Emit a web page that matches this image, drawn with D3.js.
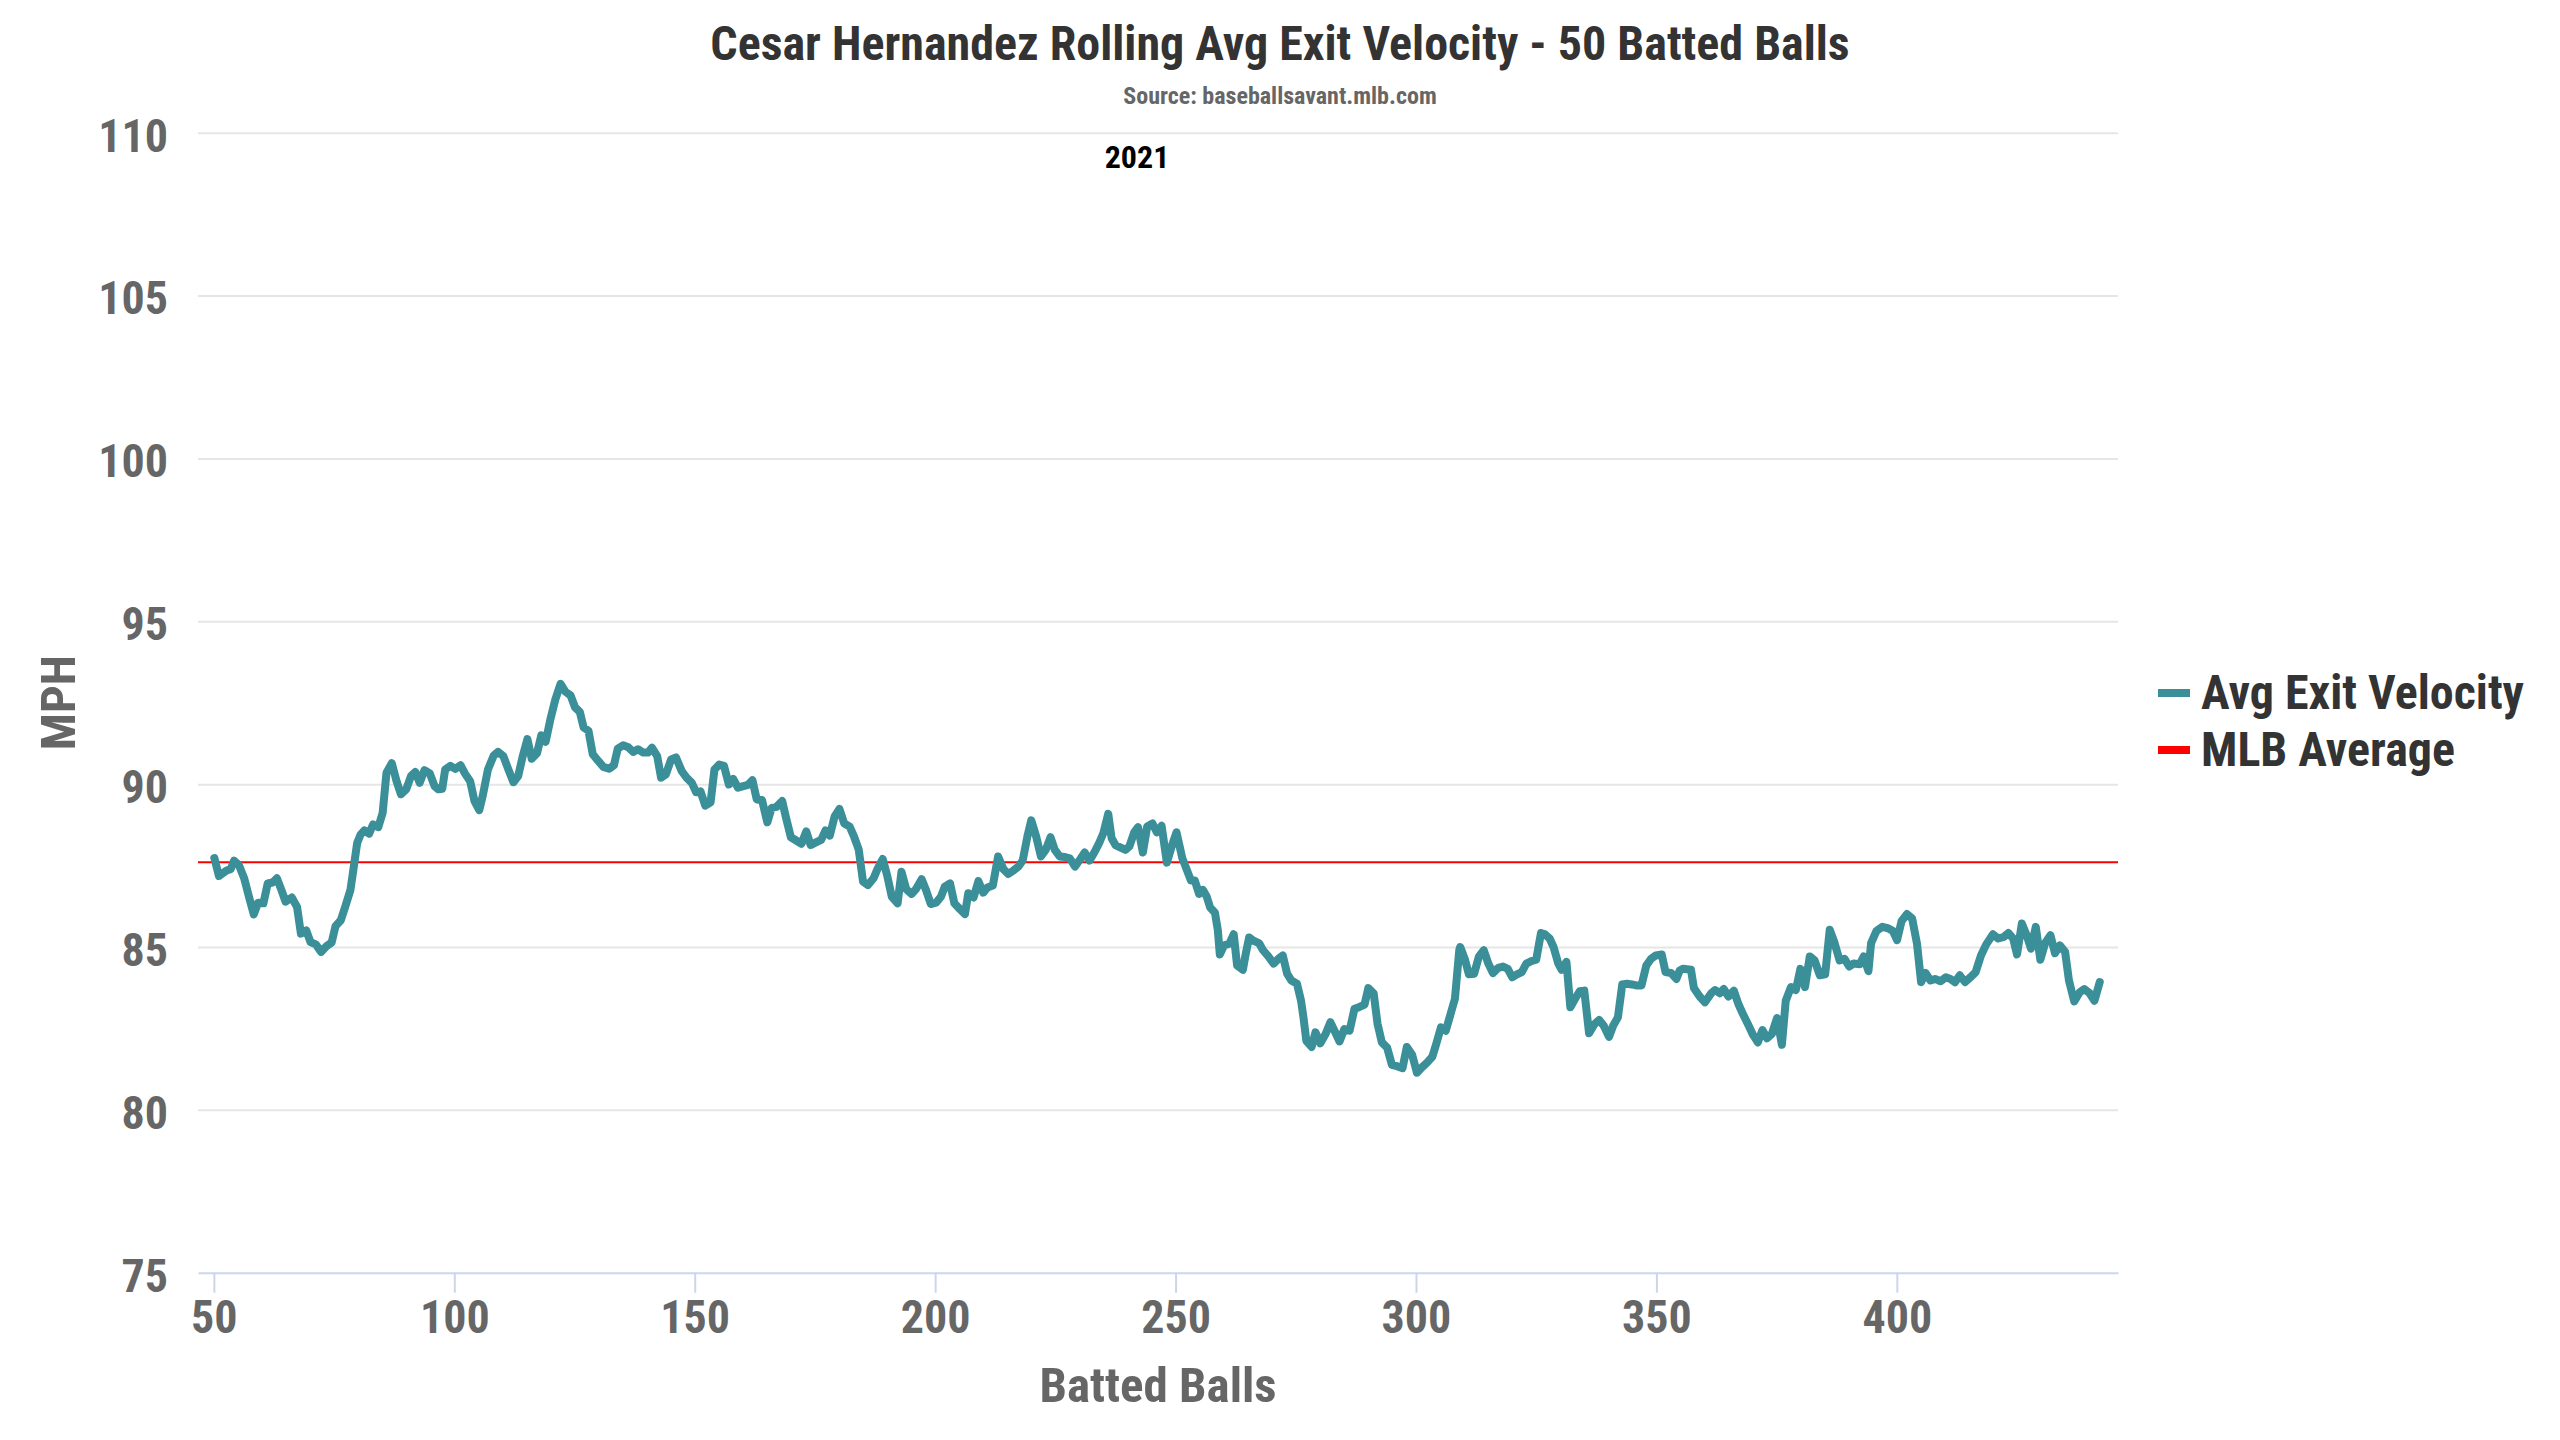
<!DOCTYPE html>
<html>
<head>
<meta charset="utf-8">
<script src="https://cdn.jsdelivr.net/npm/d3@7"></script>
<style>
  html, body { margin: 0; padding: 0; background: #fff; }
  svg { display: block; font-family: "Roboto Condensed", Roboto, "Noto Sans", sans-serif; font-weight: 700; }
</style>
</head>
<body>
<div id="chart"></div>
<script>
// ------DATA------
const battedBalls = [
  50.1, 51.05, 52.65, 53.5, 54.2, 55.2, 56.3, 57.3, 58.3, 59.2, 60.3, 61.2, 62.2, 63.1, 64.1, 64.9, 66.2, 67.3, 68.1, 69.2,
  70.1, 71.2, 72.3, 73.4, 74.5, 75.3, 76.4, 77.3, 78.4, 78.9, 79.8, 80.5, 81.3, 82.3, 83.1, 84.2, 85.1, 85.9, 87.0, 88.0,
  88.9, 90.0, 91.0, 91.9, 92.8, 93.8, 94.9, 95.9, 96.7, 97.5, 98.1, 99.2, 100.2, 101.3, 102.2, 103.3, 104.2, 105.2, 105.9, 107.0,
  108.2, 109.1, 110.2, 111.2, 112.3, 113.3, 114.2, 115.2, 116.1, 117.2, 118.1, 119.0, 120.0, 121.0, 122.1, 123.1, 124.2, 125.1, 126.1, 126.9,
  127.9, 128.8, 129.9, 131.0, 132.2, 133.2, 134.0, 135.1, 136.2, 137.2, 138.2, 139.3, 140.3, 141.1, 142.2, 143.0, 144.0, 145.1, 146.1,
  147.3, 148.3, 149.4, 150.3, 151.2, 152.2, 153.3, 154.1, 155.1, 156.1, 157.1, 158.0, 159.0, 160.1, 161.1, 162.0, 162.9, 164.0, 165.1, 166.0,
  167.0, 168.2, 169.0, 170.0, 171.1, 172.2, 173.2, 174.1, 175.2, 176.3, 177.2, 178.1, 179.1, 180.1, 181.1, 182.2, 183.1, 184.1, 185.0, 186.0,
  187.2, 188.0, 189.1, 190.0, 191.0, 192.2, 193.0, 194.0, 195.1, 196.0, 197.2, 198.1, 199.1, 200.2, 201.2, 202.0, 203.1, 204.0, 205.1, 206.2,
  206.9, 208.0, 209.0, 210.0, 210.9, 212.0, 213.1, 214.2, 215.2, 216.3, 217.3, 218.2, 219.2, 220.0, 221.0, 222.0, 223.0, 224.0, 224.9, 225.9,
  227.0, 228.0, 229.1, 230.2, 231.1, 232.1, 233.1, 234.1, 235.0, 236.0, 236.7, 237.5, 238.6, 239.6, 240.4, 241.4, 242.2, 243.2, 244.1, 245.2,
  246.1, 247.1, 248.2, 249.2, 250.2,
  251.4, 252.2, 253.2, 254.0, 254.9, 255.7, 256.5, 257.2, 258.2, 258.8, 259.2, 260.1, 261.2, 262.1, 262.8, 264.0, 264.6, 265.3, 266.2, 267.35,
  268.2, 269.3, 270.4, 271.4, 272.3, 273.2, 274.1, 275.25, 276.1, 276.6, 277.2, 278.3, 279.1, 280.1, 281.2, 282.2, 283.2, 284.1, 285.1, 286.2,
  287.2, 288.15, 289.3, 290.1, 291.2, 292.0, 292.9, 294.0, 295.0, 296.05, 297.2, 298.1, 299.2, 300.2, 301.2, 302.3, 303.4, 304.2, 305.2, 306.2,
  307.0, 308.1, 309.0, 309.2, 310.2, 311.0, 312.1, 313.1, 314.1, 315.05, 316.0, 317.1, 318.1, 319.1, 320.0, 321.0, 322.0, 322.95, 324.1, 325.0,
  326.0, 326.8, 327.8, 328.6, 329.6, 330.3, 331.3, 332.1, 333.1, 334.05, 335.0, 336.0, 337.1, 338.1, 339.05, 340.15, 341.0, 342.0, 342.9, 343.9,
  344.9, 345.8, 346.9, 347.9, 348.9, 349.85, 351.1, 351.9, 353.05, 354.15,
  354.85, 355.5, 357.2, 357.8, 359.0, 360.1, 361.4, 362.2, 363.2, 364.0, 365.0, 366.1, 367.05, 368.0, 369.1, 370.1, 371.1, 372.05, 373.0, 374.0,
  375.1, 376.1, 376.9, 378.0, 379.0, 379.95, 380.9, 381.9, 382.9, 384.0, 385.1, 386.05, 387.0, 388.1, 389.1, 390.1, 391.0, 392.3, 393.1, 394.1,
  394.65, 395.75, 397.0, 398.25, 399.2, 400.05, 401.0, 402.1, 403.2, 404.2, 405.05, 406.0, 407.0, 407.95, 409.1, 410.2, 411.15, 412.1, 413.1, 414.2,
  415.3, 416.4, 417.5, 418.6, 420.0, 421.1, 422.25, 423.2, 424.2, 425.0, 426.0, 427.0, 427.9, 428.9, 429.85, 430.85, 431.95, 432.9, 433.9, 435.0,
  435.8, 436.9, 438.05, 439.0, 440.1, 441.1, 442.2
]
const avgExitVelocity = [
  87.73, 87.18, 87.35, 87.39, 87.65, 87.52, 87.11, 86.54, 86.0, 86.36, 86.34, 86.95, 86.98, 87.11, 86.73, 86.39, 86.52, 86.23, 85.41, 85.51,
  85.15, 85.08, 84.85, 85.02, 85.14, 85.64, 85.82, 86.23, 86.75, 87.26, 88.19, 88.45, 88.58, 88.48, 88.76, 88.68, 89.12, 90.35, 90.64, 90.09,
  89.69, 89.84, 90.25, 90.37, 90.04, 90.43, 90.33, 89.94, 89.84, 89.86, 90.45, 90.56, 90.47, 90.58, 90.33, 90.09, 89.48, 89.2, 89.63, 90.45,
  90.88, 90.99, 90.86, 90.47, 90.06, 90.25, 90.84, 91.38, 90.78, 90.95, 91.5, 91.3, 92.0, 92.59, 93.08, 92.84, 92.72, 92.36, 92.22, 91.74,
  91.64, 90.92, 90.72, 90.53, 90.47, 90.58, 91.09, 91.19, 91.13, 90.99, 91.07, 90.97, 90.97, 91.12, 90.86, 90.2, 90.3, 90.76, 90.82,
  90.4, 90.2, 90.04, 89.75, 89.78, 89.34, 89.44, 90.45, 90.6, 90.56, 89.99, 90.16, 89.89, 89.94, 89.98, 90.12, 89.53, 89.51, 88.83, 89.27,
  89.3, 89.48, 88.96, 88.37, 88.27, 88.17, 88.55, 88.13, 88.21, 88.29, 88.58, 88.42, 89.01, 89.24, 88.79, 88.7, 88.4, 88.0, 87.01, 86.9,
  87.11, 87.39, 87.7, 87.21, 86.54, 86.34, 87.31, 86.77, 86.63, 86.77, 87.08, 86.75, 86.32, 86.36, 86.54, 86.85, 86.95, 86.34, 86.17, 86.01,
  86.65, 86.52, 87.02, 86.67, 86.83, 86.89, 87.78, 87.39, 87.24, 87.35, 87.47, 87.65, 88.4, 88.89, 88.4, 87.78, 87.98, 88.37, 87.98, 87.78,
  87.76, 87.72, 87.47, 87.7, 87.9, 87.65, 87.9, 88.19, 88.5, 89.09, 88.34, 88.13, 88.05, 87.98, 88.09, 88.52, 88.68, 87.9, 88.7, 88.79,
  88.52, 88.72, 87.59, 88.09, 88.52,
  87.73, 87.42, 87.04, 87.04, 86.63, 86.75, 86.54, 86.21, 86.05, 85.51, 84.77, 85.05, 85.1, 85.39, 84.43, 84.3, 84.79, 85.29, 85.19, 85.12,
  84.9, 84.71, 84.49, 84.64, 84.74, 84.18, 83.97, 83.87, 83.35, 82.84, 82.12, 81.93, 82.38, 82.04, 82.33, 82.69, 82.38, 82.1, 82.48, 82.43,
  83.1, 83.15, 83.23, 83.74, 83.58, 82.65, 82.07, 81.91, 81.38, 81.34, 81.28, 81.93, 81.69, 81.14, 81.3, 81.45, 81.63, 82.02, 82.53, 82.43,
  82.84, 83.41, 84.9, 85.0, 84.61, 84.16, 84.18, 84.71, 84.9, 84.49, 84.2, 84.36, 84.4, 84.33, 84.07, 84.16, 84.23, 84.49, 84.57, 84.61,
  85.43, 85.39, 85.26, 85.0, 84.49, 84.3, 84.54, 83.15, 83.41, 83.64, 83.66, 82.35, 82.63, 82.76, 82.58, 82.24, 82.58, 82.84, 83.85, 83.87,
  83.85, 83.82, 83.82, 84.43, 84.64, 84.74, 84.77, 84.23, 84.2, 84.02,
  84.28, 84.33, 84.3, 83.74, 83.48, 83.3, 83.58, 83.68, 83.58, 83.71, 83.48, 83.66, 83.25, 82.94, 82.61, 82.3, 82.07, 82.45, 82.2, 82.33,
  82.82, 82.0, 83.35, 83.77, 83.68, 84.33, 83.77, 84.71, 84.59, 84.13, 84.16, 85.53, 85.15, 84.59, 84.64, 84.4, 84.49, 84.47, 84.71, 84.26,
  85.12, 85.49, 85.62, 85.57, 85.49, 85.21, 85.8, 86.01, 85.87, 85.1, 83.92, 84.2, 83.97, 84.02, 83.95, 84.07, 84.02, 83.92, 84.13, 83.92,
  84.07, 84.23, 84.74, 85.08, 85.39, 85.26, 85.31, 85.43, 85.26, 84.77, 85.72, 85.36, 84.95, 85.62, 84.61, 85.12, 85.36, 84.81, 85.05, 84.85,
  83.97, 83.33, 83.61, 83.71, 83.58, 83.35, 83.92
]
const mlbAverage = 87.6
const xTickValues = [50, 100, 150, 200, 250, 300, 350, 400]
const yTickValues = [75, 80, 85, 90, 95, 100, 105, 110]
const legendItems = [
  { name: "Avg Exit Velocity", color: "#3a8f99" },
  { name: "MLB Average", color: "#ff0000" }
]

// ------LAYOUT------
const width = 2560
const height = 1440
const plot = { left: 198, right: 2118, top: 132.7, bottom: 1272.7 }

const svg = d3.select("#chart").append("svg")
  .attr("width", width)
  .attr("height", height)
  .attr("viewBox", `0 0 ${width} ${height}`)

const xScale = d3.scaleLinear().domain([46.7, 446]).range([plot.left, plot.right])
const yScale = d3.scaleLinear().domain([75, 110]).range([plot.bottom, plot.top])

// plain text helper
function label(x, y, str, size, color, anchor, rotate) {
  return svg.append("text")
    .attr("transform", `translate(${x},${y})${rotate ? " rotate(-90)" : ""}`)
    .attr("text-anchor", anchor || "start")
    .style("font-size", size + "px")
    .style("fill", color)
    .text(str)
}

// ------AXES------
const yAxis = svg.append("g")
  .attr("transform", `translate(${plot.left},0)`)
  .call(d3.axisLeft(yScale).tickValues(yTickValues).tickSize(-(plot.right - plot.left)).tickPadding(30))
yAxis.attr("font-family", null).attr("font-size", null)
yAxis.select(".domain").remove()
yAxis.selectAll(".tick line")
  .attr("stroke", "#e6e6e6").attr("stroke-width", 2)
  .filter(d => d === 75).remove()
yAxis.selectAll(".tick text")
  .attr("dy", "0.4em")
  .style("font-size", "46px").style("fill", "#666666")

const xAxis = svg.append("g")
  .attr("transform", `translate(0,${plot.bottom})`)
  .call(d3.axisBottom(xScale).tickValues(xTickValues).tickSize(20).tickSizeOuter(0).tickPadding(8))
xAxis.attr("font-family", null).attr("font-size", null)
xAxis.select(".domain").attr("stroke", "#ccd6eb").attr("stroke-width", 2)
xAxis.selectAll(".tick line").attr("stroke", "#ccd6eb").attr("stroke-width", 2)
xAxis.selectAll(".tick text")
  .style("font-size", "46px").style("fill", "#666666")

// ------SERIES------
svg.append("line")
  .attr("x1", plot.left).attr("x2", plot.right)
  .attr("y1", yScale(mlbAverage)).attr("y2", yScale(mlbAverage))
  .attr("stroke", legendItems[1].color).attr("stroke-width", 2)

const points = battedBalls.map((b, i) => [b, avgExitVelocity[i]])
const line = d3.line().x(d => xScale(d[0])).y(d => yScale(d[1]))
svg.append("path")
  .datum(points)
  .attr("d", line)
  .attr("fill", "none")
  .attr("stroke", legendItems[0].color)
  .attr("stroke-width", 8)
  .attr("stroke-linejoin", "round")
  .attr("stroke-linecap", "round")

// ------TEXTS------
label(1280, 60, "Cesar Hernandez Rolling Avg Exit Velocity - 50 Batted Balls", 48, "#333333", "middle")
label(1280, 104, "Source: baseballsavant.mlb.com", 24, "#666666", "middle")
label(1137, 168, "2021", 32, "#000000", "middle")
label((plot.left + plot.right) / 2, 1402, "Batted Balls", 49, "#666666", "middle")
label(75, (plot.top + plot.bottom) / 2, "MPH", 49, "#666666", "middle", true)

// ------LEGEND------
legendItems.forEach((item, i) => {
  const y = 693 + i * 57
  svg.append("rect")
    .attr("x", 2158).attr("y", y - 4).attr("width", 32).attr("height", 8)
    .attr("fill", item.color)
  label(2201, y + 15.5, item.name, 48, "#333333", "start")
})
</script>
</body>
</html>
